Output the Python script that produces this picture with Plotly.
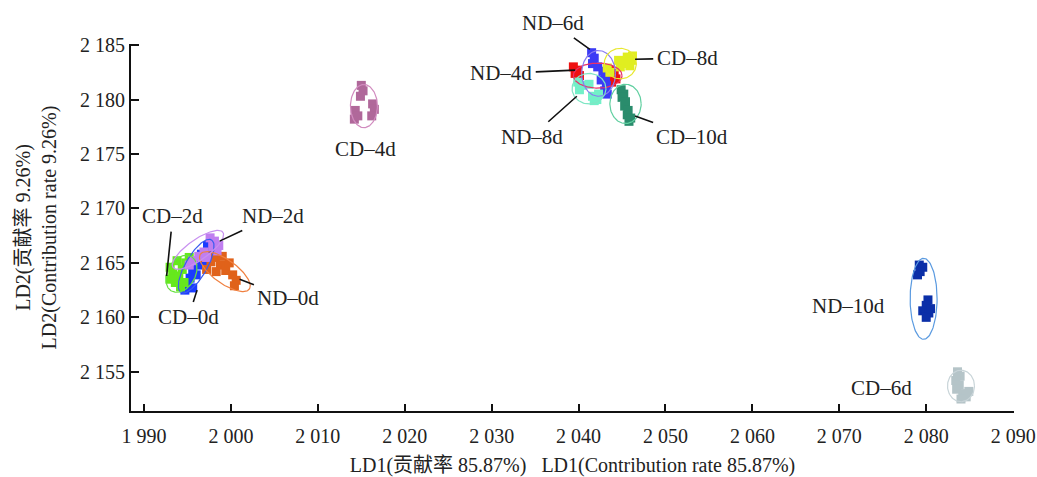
import numpy as np
import plotly.graph_objects as go

# ---------------- data ----------------
groups = ["CD-0d", "CD-2d", "ND-0d", "ND-2d", "CD-4d", "ND-4d", "ND-6d", "ND-8d",
          "CD-8d", "CD-10d", "ND-10d", "CD-6d"]

ld1 = {
    "CD-0d": [1997.3, 1997.8, 1996.6, 1997.0, 1996.2, 1995.6, 1995.3, 1995.0, 1995.6, 1994.7, 1996.0],
    "CD-2d": [1993.0, 1993.3, 1993.0, 1993.6, 1994.0, 1994.4, 1994.8, 1993.8, 1994.2, 1995.2, 1994.6],
    "ND-0d": [1997.0, 1997.7, 1998.2, 1998.8, 1999.4, 1999.8, 2000.2, 2000.6, 2000.4, 1998.3, 1997.2, 1999.0],
    "ND-2d": [1997.6, 1998.1, 1997.9, 1998.6, 1996.9, 1996.3, 1995.6, 1995.2, 1997.2, 1998.4],
    "CD-4d": [2015.0, 2015.2, 2014.9, 2014.3, 2014.6, 2014.2, 2016.3, 2016.5, 2016.2],
    "ND-4d": [2039.4, 2039.9, 2039.6, 2040.1, 2043.6, 2044.1, 2044.3, 2043.8],
    "ND-6d": [2041.5, 2041.8, 2041.6, 2042.2, 2042.8, 2043.1, 2042.6, 2043.2, 2043.0, 2043.3],
    "ND-8d": [2039.9, 2040.4, 2040.1, 2041.2, 2041.6, 2042.1, 2042.3, 2041.8],
    "CD-8d": [2045.6, 2046.1, 2045.9, 2045.3, 2044.8, 2044.6, 2043.6, 2043.3, 2046.2],
    "CD-10d": [2044.9, 2045.2, 2045.0, 2045.4, 2045.3, 2045.7, 2045.6, 2046.0, 2045.8],
    "ND-10d": [2079.2, 2079.6, 2079.3, 2079.0, 2080.2, 2080.0, 2079.6, 2080.3, 2080.0, 2080.5],
    "CD-6d": [2083.6, 2083.9, 2083.4, 2083.8, 2083.5, 2084.2, 2084.6, 2084.0, 2084.9],
}
ld2 = {
    "CD-0d": [2166.6, 2166.0, 2165.8, 2165.2, 2164.8, 2164.3, 2163.6, 2163.0, 2162.7, 2162.5, 2163.9],
    "CD-2d": [2164.6, 2164.0, 2163.5, 2163.2, 2163.8, 2164.4, 2165.0, 2165.2, 2162.8, 2165.5, 2163.2],
    "ND-0d": [2165.5, 2165.1, 2165.5, 2164.8, 2164.3, 2165.0, 2163.9, 2163.4, 2162.9, 2164.2, 2164.4, 2165.6],
    "ND-2d": [2167.3, 2167.0, 2166.5, 2166.6, 2166.0, 2165.6, 2165.2, 2164.8, 2165.5, 2166.1],
    "CD-4d": [2181.3, 2180.8, 2180.3, 2179.0, 2178.5, 2178.2, 2179.6, 2179.1, 2178.5],
    "ND-4d": [2183.0, 2182.7, 2182.4, 2182.2, 2182.7, 2182.4, 2181.9, 2181.6],
    "ND-6d": [2184.3, 2183.8, 2183.3, 2183.0, 2182.6, 2182.1, 2181.8, 2181.3, 2180.8, 2180.5],
    "ND-8d": [2181.6, 2181.3, 2180.9, 2181.4, 2180.3, 2180.0, 2180.5, 2179.9],
    "CD-8d": [2183.9, 2183.6, 2183.1, 2183.3, 2183.0, 2183.6, 2182.5, 2182.9, 2184.0],
    "CD-10d": [2180.9, 2180.5, 2180.2, 2179.8, 2179.4, 2179.0, 2178.6, 2178.3, 2178.0],
    "ND-10d": [2164.8, 2164.6, 2164.2, 2163.9, 2161.6, 2161.1, 2160.6, 2160.4, 2160.0, 2160.8],
    "CD-6d": [2155.0, 2154.6, 2154.2, 2153.8, 2153.4, 2153.0, 2152.7, 2152.5, 2153.2],
}

# confidence ellipses: centre, semi-axes, rotation (deg)
ell_cx = {"CD-0d": 1996.0, "CD-2d": 1994.3, "ND-0d": 1999.3, "ND-2d": 1996.2, "CD-4d": 2015.3,
          "ND-4d": 2042.2, "ND-6d": 2042.3, "ND-8d": 2041.2, "CD-8d": 2044.8, "CD-10d": 2045.4,
          "ND-10d": 2079.7, "CD-6d": 2084.0}
ell_cy = {"CD-0d": 2164.7, "CD-2d": 2164.0, "ND-0d": 2164.2, "ND-2d": 2166.2, "CD-4d": 2179.4,
          "ND-4d": 2182.2, "ND-6d": 2182.4, "ND-8d": 2181.0, "CD-8d": 2183.3, "CD-10d": 2179.6,
          "ND-10d": 2161.7, "CD-6d": 2153.7}
ell_a = {"CD-0d": 3.0, "CD-2d": 2.0, "ND-0d": 3.25, "ND-2d": 3.3, "CD-4d": 1.55,
         "ND-4d": 2.8, "ND-6d": 1.95, "ND-8d": 1.95, "CD-8d": 1.85, "CD-10d": 1.8,
         "ND-10d": 1.55, "CD-6d": 1.55}
ell_b = {"CD-0d": 1.15, "CD-2d": 1.45, "ND-0d": 1.15, "ND-2d": 1.0, "CD-4d": 1.98,
         "ND-4d": 1.15, "ND-6d": 2.1, "ND-8d": 1.4, "CD-8d": 1.4, "CD-10d": 1.8,
         "ND-10d": 3.72, "CD-6d": 1.45}
ell_ang = {"CD-0d": 52, "CD-2d": 40, "ND-0d": -28, "ND-2d": 28, "CD-4d": 0,
           "ND-4d": 0, "ND-6d": 0, "ND-8d": 0, "CD-8d": 0, "CD-10d": 0,
           "ND-10d": 0, "CD-6d": 0}

point_colors = {"CD-0d": "#1a3cff", "CD-2d": "#66e81c", "ND-0d": "#e0621a", "ND-2d": "#c07ef0",
                "CD-4d": "#b0689a", "ND-4d": "#ee1111", "ND-6d": "#3b3bf5", "ND-8d": "#72f0c8",
                "CD-8d": "#e0ee20", "CD-10d": "#2a8c6c", "ND-10d": "#0b2fa8", "CD-6d": "#b5c4c8"}
ring_colors = {"CD-0d": "#3a5cf0", "CD-2d": "#66e040", "ND-0d": "#f08040", "ND-2d": "#c890f0",
               "CD-4d": "#d18bbf", "ND-4d": "#e8306a", "ND-6d": "#8a7cf0", "ND-8d": "#7fe6c4",
               "CD-8d": "#e8e830", "CD-10d": "#60cfa0", "ND-10d": "#5a9ae0", "CD-6d": "#c8d4d8"}

# labels: text position (ax, ay) and leader-line end (x, y); None = no leader
lab_ax = {"CD-0d": 1995.1, "CD-2d": 1993.3, "ND-0d": 2006.6, "ND-2d": 2004.8, "CD-4d": 2015.5,
          "ND-4d": 2031.1, "ND-6d": 2037.1, "ND-8d": 2034.6, "CD-8d": 2052.5, "CD-10d": 2053.1,
          "ND-10d": 2071.1, "CD-6d": 2074.8}
lab_ay = {"CD-0d": 2160.0, "CD-2d": 2169.3, "ND-0d": 2161.8, "ND-2d": 2169.3, "CD-4d": 2175.5,
          "ND-4d": 2182.4, "ND-6d": 2187.0, "ND-8d": 2176.6, "CD-8d": 2183.8, "CD-10d": 2176.6,
          "ND-10d": 2161.0, "CD-6d": 2153.5}
lead_x = {"CD-0d": 1996.1, "CD-2d": 1992.6, "ND-0d": 2001.0, "ND-2d": 1998.7, "CD-4d": None,
          "ND-4d": 2039.6, "ND-6d": 2041.3, "ND-8d": 2039.8, "CD-8d": 2046.5, "CD-10d": 2046.5,
          "ND-10d": None, "CD-6d": None}
lead_y = {"CD-0d": 2162.5, "CD-2d": 2163.8, "ND-0d": 2163.5, "ND-2d": 2167.0, "CD-4d": None,
          "ND-4d": 2182.7, "ND-6d": 2184.6, "ND-8d": 2180.3, "CD-8d": 2183.7, "CD-10d": 2178.5,
          "ND-10d": None, "CD-6d": None}

x_ticks = [1990, 2000, 2010, 2020, 2030, 2040, 2050, 2060, 2070, 2080, 2090]
x_ticktext = ["1 990", "2 000", "2 010", "2 020", "2 030", "2 040", "2 050", "2 060", "2 070", "2 080", "2 090"]
y_ticks = [2155, 2160, 2165, 2170, 2175, 2180, 2185]
y_ticktext = ["2 155", "2 160", "2 165", "2 170", "2 175", "2 180", "2 185"]

# ---------------- figure ----------------
SERIF = "Liberation Serif, Times New Roman, Noto Sans CJK SC, serif"
fig = go.Figure()
t = np.linspace(0, 2 * np.pi, 120)
for g in groups:
    fig.add_trace(go.Scatter(x=ld1[g], y=ld2[g], mode="markers",
                             marker=dict(symbol="square", size=9, color=point_colors[g], line=dict(width=0)),
                             name=g, showlegend=False, hoverinfo="skip"))
for g in groups:
    th = np.deg2rad(ell_ang[g])
    ex = ell_cx[g] + ell_a[g] * np.cos(t) * np.cos(th) - ell_b[g] * np.sin(t) * np.sin(th)
    ey = ell_cy[g] + ell_a[g] * np.cos(t) * np.sin(th) + ell_b[g] * np.sin(t) * np.cos(th)
    fig.add_trace(go.Scatter(x=ex, y=ey, mode="lines", line=dict(color=ring_colors[g], width=1.2),
                             showlegend=False, hoverinfo="skip"))

for g in groups:
    txt = g.replace("-", "–")
    if lead_x[g] is None:
        fig.add_annotation(x=lab_ax[g], y=lab_ay[g], text=txt, showarrow=False,
                           font=dict(family=SERIF, size=21, color="#222"))
    else:
        fig.add_annotation(x=lead_x[g], y=lead_y[g], ax=lab_ax[g], ay=lab_ay[g],
                           axref="x", ayref="y", text=txt, showarrow=True, arrowhead=0,
                           arrowwidth=1.6, arrowcolor="#111", standoff=0, startstandoff=2,
                           font=dict(family=SERIF, size=21, color="#222"))

fig.update_layout(
    width=1037, height=477,
    margin=dict(l=131, r=23, t=44, b=66),
    paper_bgcolor="white", plot_bgcolor="white",
    font=dict(family=SERIF, size=20, color="#222"),
    xaxis=dict(range=[1988.5, 2090.1], tickvals=x_ticks, ticktext=x_ticktext, automargin=False,
               ticks="inside", ticklen=7, tickwidth=2, tickcolor="#111", ticklabelstandoff=6,
               showline=True, linecolor="#111", linewidth=2, showgrid=False, zeroline=False,
               tickfont=dict(family=SERIF, size=20, color="#222"),
               title=dict(text="LD1(贡献率 85.87%)   LD1(Contribution rate 85.87%)",
                          font=dict(family=SERIF, size=20, color="#222"), standoff=14)),
    yaxis=dict(range=[2151.4, 2185.1], tickvals=y_ticks, ticktext=y_ticktext, automargin=False,
               ticks="inside", ticklen=8, tickwidth=2, tickcolor="#111",
               showline=True, linecolor="#111", linewidth=2, showgrid=False, zeroline=False,
               tickfont=dict(family=SERIF, size=20, color="#222"),
               title=dict(text="LD2(贡献率 9.26%)<br>LD2(Contribution rate 9.26%)",
                          font=dict(family=SERIF, size=20, color="#222"), standoff=18)),
)
fig.write_html("out.html")
